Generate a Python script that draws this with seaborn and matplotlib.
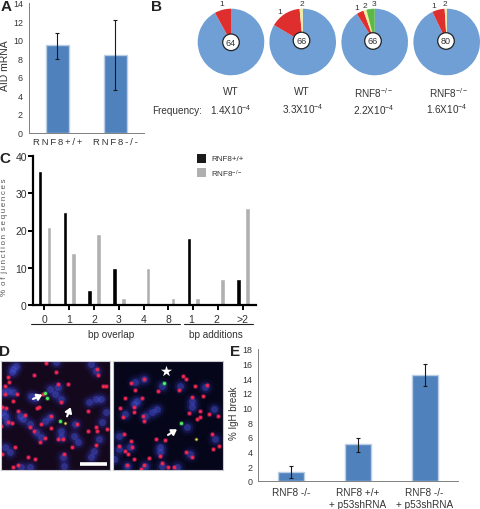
import matplotlib
matplotlib.use("Agg")
import matplotlib.pyplot as plt
import seaborn as sns
from matplotlib.patches import Circle

# panel A
aid_groups = ["R\u2009N\u2009F\u20098\u2009+\u2009/\u2009+", "R\u2009N\u2009F\u20098\u2009-\u2009/\u2009-"]
aid_values = [9.4, 8.4]
aid_low = [7.9, 4.6]
aid_high = [10.7, 12.1]

# panel B
pie_colors = ["#6f9fd4", "#df2e2e", "#f4ee9a", "#5cb947"]
pie_values = [[92, 8, 0, 0], [83.5, 15, 1.5, 0], [91, 3.5, 1.5, 4], [93, 6, 1, 0]]
pie_totals = ["64", "66", "66", "80"]
pie_names = ["WT", "WT", "RNF8$^{-/-}$", "RNF8$^{-/-}$"]
pie_freqs = ["1.4X10$^{-4}$", "3.3X10$^{-4}$", "2.2X10$^{-4}$", "1.6X10$^{-4}$"]

# panel C
junction_labels = ["0", "1", "2", "3", "4", "8", "1 ", "2 ", ">2"]
junction_wt = [36, 25, 4, 10, 0, 0, 18, 0, 7]
junction_ko = [21, 14, 19, 2, 10, 2, 2, 7, 26]

# panel D, spots (crop pixels x3)
left_blue = [(40, 30), (48, 22), (35, 40), (275, 15), (290, 35), (170, 10), (10, 100), (40, 100), (25, 95),
             (95, 110), (105, 118), (150, 90), (175, 85), (185, 120), (165, 105), (290, 120), (270, 130),
             (305, 120), (320, 160), (310, 190), (70, 180), (90, 195), (60, 170), (15, 170), (20, 190),
             (10, 160), (110, 220), (125, 235), (150, 175), (135, 185), (185, 215), (185, 235), (228, 195),
             (225, 230), (235, 250), (300, 240), (285, 275), (275, 295), (15, 265), (30, 280), (190, 295),
             (195, 320), (65, 325), (90, 325)]
left_red = [(140, 13), (103, 48), (170, 40), (25, 55), (27, 68), (15, 80), (15, 105), (52, 105), (38, 125),
            (175, 75), (205, 75), (298, 48), (295, 30), (313, 80), (322, 80), (130, 105), (118, 145),
            (112, 148), (185, 128), (265, 155), (5, 145), (18, 146), (25, 190), (35, 192), (55, 155),
            (75, 168), (90, 205), (125, 195), (155, 172), (103, 215), (155, 208), (135, 237), (122, 248),
            (175, 240), (190, 240), (265, 215), (290, 205), (295, 215), (290, 258), (218, 265), (45, 265),
            (5, 285), (85, 295), (105, 300), (55, 318), (40, 325), (195, 285), (3, 200), (325, 210), (232, 195)]
left_green = [(136, 103), (143, 118), (182, 186)]
left_yellow = [(197, 192)]
right_blue = [(95, 60), (70, 70), (150, 80), (205, 80), (280, 85), (240, 125), (65, 135), (40, 165), (120, 160),
              (100, 170), (305, 150), (20, 230), (225, 205), (310, 240), (145, 265), (20, 270), (55, 265),
              (235, 285), (100, 320), (45, 320), (150, 320), (195, 325), (5, 300), (240, 145), (135, 150),
              (145, 280), (75, 125)]
right_red = [(97, 60), (57, 72), (70, 92), (212, 50), (222, 60), (200, 92), (138, 95), (250, 82), (285, 78),
             (40, 118), (90, 117), (25, 147), (65, 145), (65, 160), (32, 175), (92, 172), (97, 185), (232, 163),
             (265, 157), (265, 175), (255, 180), (290, 165), (318, 170), (240, 115), (272, 112), (37, 225),
             (133, 240), (160, 243), (57, 245), (20, 260), (60, 265), (40, 275), (48, 285), (143, 290),
             (300, 225), (320, 262), (302, 270), (222, 280), (240, 295), (65, 300), (112, 297), (45, 318),
             (95, 318), (150, 312), (168, 325), (88, 330), (185, 325)]
right_green = [(156, 72), (207, 193)]
right_yellow = [(253, 240)]

# panel E
igh_groups = ["RNF8 -/-", "RNF8 +/+\n+ p53shRNA", "RNF8 -/-\n+ p53shRNA"]
igh_values = [1.2, 5.0, 14.5]
igh_low = [0.4, 4.0, 13.0]
igh_high = [2.0, 5.9, 16.0]

TEXT = "#333333"
BAR_BLUE = "#4f81bd"
BAR_EDGE = "#b9cde5"


def pixel_axes(fig, left, top, right, bottom):
    return fig.add_axes([left / 480, 1 - bottom / 510, (right - left) / 480, (bottom - top) / 510])


def excel_bars(ax, groups, values, low, high, ymax, step, width):
    sns.barplot(x=groups, y=values, color=BAR_BLUE, saturation=1, width=width, edgecolor=BAR_EDGE,
                linewidth=1, ax=ax)
    centers = range(len(groups))
    yerr = [[v - l for v, l in zip(values, low)], [h - v for v, h in zip(values, high)]]
    ax.errorbar(centers, values, yerr=yerr, fmt="none", ecolor="#1a1a1a", elinewidth=0.8, capsize=1.5,
                capthick=0.8)
    ax.set_xlim(-0.5, len(groups) - 0.5)
    ax.set_ylim(0, ymax)
    ax.set_yticks(range(0, ymax + 1, step))
    ax.set_xticks([i - 0.5 for i in range(len(groups) + 1)], minor=True)
    ax.tick_params(axis="x", which="major", length=0)
    ax.tick_params(axis="x", which="minor", length=2.5, color="#808080", width=0.7)
    ax.tick_params(axis="y", length=2.5, color="#808080", width=0.7, labelsize=6.4, labelcolor=TEXT, pad=1.5)
    sns.despine(ax=ax)
    ax.spines["left"].set_color("#808080")
    ax.spines["bottom"].set_color("#808080")
    ax.spines["left"].set_linewidth(0.7)
    ax.spines["bottom"].set_linewidth(0.7)


def micrograph(ax, background, blue, red, green, yellow):
    ax.set_facecolor(background)
    for name, points, layers in [
        ("blue", blue, [(150, 0.1, "#2b2f9a"), (70, 0.25, "#3035a5"), (25, 0.4, "#4a58e0")]),
        ("red", red, [(14, 0.45, "#c8206a"), (5, 1, "#f52848")]),
        ("green", green, [(14, 0.4, "#2fb04a"), (5, 1, "#50f060")]),
        ("yellow", yellow, [(8, 0.4, "#a0a040"), (2.5, 1, "#f0e060")]),
    ]:
        xs = [p[0] for p in points]
        ys = [p[1] for p in points]
        for size, alpha, color in layers:
            sns.scatterplot(x=xs, y=ys, s=size, alpha=alpha, color=color, linewidth=0, legend=False, ax=ax)
    ax.set_xlim(3, 333)
    ax.set_ylim(333, 6)
    ax.set_xticks([])
    ax.set_yticks([])
    for spine in ax.spines.values():
        spine.set_color("#c9c9d2")
        spine.set_linewidth(0.8)


def white_arrow(ax, start, end):
    ax.annotate("", xy=end, xytext=start,
                arrowprops=dict(arrowstyle="-|>,head_width=0.2,head_length=0.3", color="white", lw=1.5,
                                shrinkA=0, shrinkB=0))


def main():
    sns.set_style("white")
    plt.rcParams["font.family"] = ["Liberation Sans", "DejaVu Sans"]
    plt.rcParams["mathtext.fontset"] = "custom"
    plt.rcParams["mathtext.rm"] = "Liberation Sans"
    plt.rcParams["mathtext.default"] = "rm"

    fig = plt.figure(figsize=(4.8, 5.1), dpi=100)

    # A
    ax_a = pixel_axes(fig, 28.5, 3.5, 144, 133.5)
    excel_bars(ax_a, aid_groups, aid_values, aid_low, aid_high, 14, 2, 0.4)
    ax_a.tick_params(axis="x", which="major", labelsize=6.8, labelcolor=TEXT, pad=3.5)

    # B
    for i, cx in enumerate([231, 302.7, 374.7, 446.7]):
        ax_p = pixel_axes(fig, cx - 33.3, 9.7, cx + 33.3, 76.3)
        ax_p.pie(pie_values[i], colors=pie_colors, startangle=90, counterclock=False,
                 radius=1, wedgeprops=dict(linewidth=0))
        ax_p.set_xlim(-1, 1)
        ax_p.set_ylim(-1, 1)

    # C
    ax_c = pixel_axes(fig, 33, 157, 256, 306)
    order = range(len(junction_labels))
    hues = ["RNF8+/+"] * len(junction_labels) + ["RNF8 -/-"] * len(junction_labels)
    sns.barplot(x=list(order) + list(order), y=junction_wt + junction_ko, hue=hues, width=0.72, gap=0.5,
                palette=["#000000", "#b0b0b0"], saturation=1, legend=False, ax=ax_c)
    ax_c.set_xticks(list(order), junction_labels)
    ax_c.set_xlim(-0.46, 8.53)
    ax_c.set_ylim(0, 40)
    ax_c.set_yticks([0, 10, 20, 30, 40])
    sns.despine(ax=ax_c)
    ax_c.spines["left"].set_linewidth(1.6)
    ax_c.spines["bottom"].set_linewidth(1.6)
    ax_c.spines["left"].set_color("black")
    ax_c.spines["bottom"].set_color("black")
    ax_c.tick_params(axis="both", length=3.5, width=1.4, color="black", labelsize=7.5, labelcolor=TEXT,
                     bottom=True, left=True)
    ax_c.tick_params(axis="x", pad=3)
    ax_c.tick_params(axis="y", pad=1)

    # D
    ax_d1 = pixel_axes(fig, 1, 362, 110, 471)
    micrograph(ax_d1, "#14081c", left_blue, left_red, left_green, left_yellow)
    white_arrow(ax_d1, (100, 120), (128, 107))
    white_arrow(ax_d1, (203, 172), (214, 145))
    ax_d1.plot([242, 325], [315, 315], color="white", lw=2.6, solid_capstyle="butt")

    ax_d2 = pixel_axes(fig, 113, 362, 223, 471)
    micrograph(ax_d2, "#06061a", right_blue, right_red, right_green, right_yellow)
    white_arrow(ax_d2, (168, 228), (195, 211))
    sns.scatterplot(x=[163], y=[37], marker="*", s=70, color="white", linewidth=0, legend=False, ax=ax_d2)

    # E
    ax_e = pixel_axes(fig, 258, 350, 458, 482)
    excel_bars(ax_e, igh_groups, igh_values, igh_low, igh_high, 18, 2, 0.39)
    ax_e.tick_params(axis="x", which="major", labelsize=7.2, labelcolor=TEXT, pad=4.5)

    # everything placed by hand goes on a full figure overlay, in pixels
    over = fig.add_axes([0, 0, 1, 1], facecolor="none")
    over.set_xlim(0, 480)
    over.set_ylim(510, 0)
    over.axis("off")

    for label, x, y in [("A", 6, 7), ("B", 156, 7), ("C", 5, 159), ("D", 5, 352), ("E", 235, 352)]:
        over.text(x, y, label, fontsize=11, fontweight="bold", color="#222222", ha="center", va="center")

    over.text(5, 66, "AID mRNA", rotation=90, fontsize=7.5, color=TEXT, ha="center", va="center")
    over.text(234, 413, "% IgH break", rotation=90, fontsize=7, color=TEXT, ha="center", va="center")
    over.text(5, 237, "%\u2009 o\u2009f\u2009 j\u2009u\u2009n\u2009c\u2009t\u2009i\u2009o\u2009n\u2009 "
              "s\u2009e\u2009q\u2009u\u2009e\u2009n\u2009c\u2009e\u2009s",
              rotation=90, fontsize=5.8, color="#555555", ha="center", va="center")

    holes = [(231, 43.3), (301.5, 41.5), (373, 42), (446, 42)]
    name_xy = [(231, 92), (302, 92), (374, 93), (449, 93)]
    freq_xy = [(231, 110), (303, 109), (374, 110), (447, 109)]
    for i in range(4):
        over.add_patch(Circle(holes[i], 8.3, facecolor="white", edgecolor="#222222", lw=0.9))
        over.text(holes[i][0], holes[i][1], pie_totals[i], fontsize=6.5, color=TEXT, ha="center", va="center")
        over.text(name_xy[i][0], name_xy[i][1], pie_names[i], fontsize=7.2, color=TEXT, ha="center", va="center")
        over.text(freq_xy[i][0], freq_xy[i][1], pie_freqs[i], fontsize=7.2, color=TEXT, ha="center", va="center")
    over.text(152, 111, "Frequency:", fontsize=7.2, color=TEXT, ha="left", va="center")

    for text, x, y in [("1", 222, 4), ("1", 280, 13), ("2", 302, 5), ("1", 357, 9), ("2", 365, 7), ("3", 374, 4),
                       ("1", 434, 7), ("2", 445, 4)]:
        over.text(x, y, text, fontsize=6, color=TEXT, ha="center", va="center")

    # legend of C and the brackets under it
    over.fill_between([197, 206], 155, 164, color="#1a1a1a", lw=0)
    over.fill_between([197, 206], 169, 178, color="#b0b0b0", lw=0)
    over.text(211, 160, "RNF8+/+", fontsize=5.8, color=TEXT, va="center")
    over.text(211, 174, "RNF8$^{-/-}$", fontsize=5.8, color=TEXT, va="center")
    over.plot([31, 180], [325, 325], color="#222222", lw=0.8)
    over.plot([184, 253], [325, 325], color="#222222", lw=0.8)
    over.text(111, 335, "bp overlap", fontsize=7.2, color=TEXT, ha="center", va="center")
    over.text(216, 335, "bp additions", fontsize=7.2, color=TEXT, ha="center", va="center")

    fig.savefig("out.png", dpi=100)


if __name__ == "__main__":
    main()
